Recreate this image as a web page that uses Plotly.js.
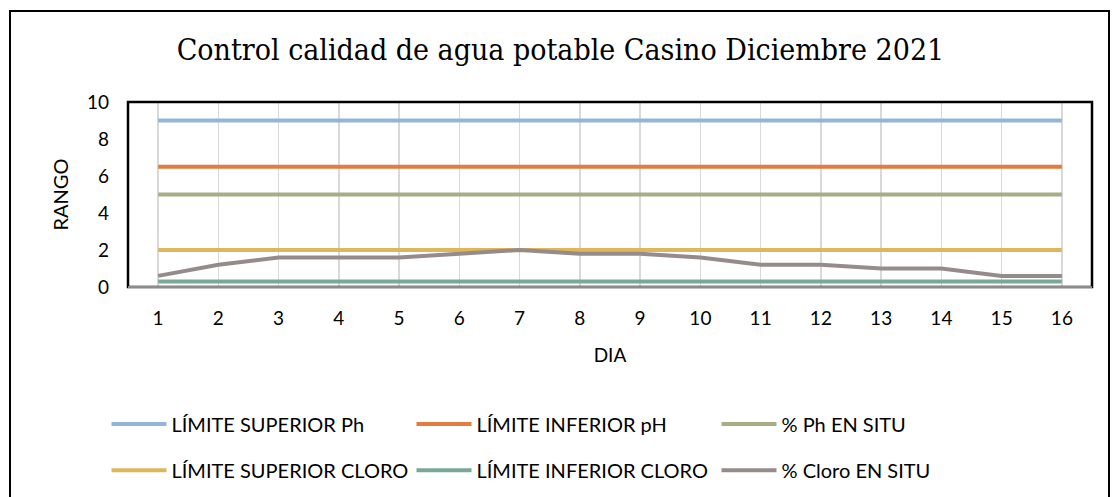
<!DOCTYPE html>
<html><head><meta charset="utf-8">
<script src="https://cdn.plot.ly/plotly-3.0.1.min.js"></script>
<style>
html,body{margin:0;padding:0;background:#fff;}
#wrap{position:relative;width:1112px;height:497px;overflow:hidden;}
#chart{position:absolute;left:0;top:0;width:1112px;height:497px;}
#frame{position:absolute;left:9px;top:10px;width:1101px;height:600px;border:2px solid #000;pointer-events:none;box-sizing:border-box;}
</style></head>
<body><div id="wrap"><div id="chart"></div><div id="frame"></div></div>
<script>
const dias = ['1','2','3','4','5','6','7','8','9','10','11','12','13','14','15','16'];
const limSupPh = [9,9,9,9,9,9,9,9,9,9,9,9,9,9,9,9];
const limInfPh = [6.5,6.5,6.5,6.5,6.5,6.5,6.5,6.5,6.5,6.5,6.5,6.5,6.5,6.5,6.5,6.5];
const phEnSitu = [5,5,5,5,5,5,5,5,5,5,5,5,5,5,5,5];
const limSupCloro = [2,2,2,2,2,2,2,2,2,2,2,2,2,2,2,2];
const limInfCloro = [0.3,0.3,0.3,0.3,0.3,0.3,0.3,0.3,0.3,0.3,0.3,0.3,0.3,0.3,0.3,0.3];
const cloroEnSitu = [0.6,1.2,1.6,1.6,1.6,1.8,2.0,1.8,1.8,1.6,1.2,1.2,1.0,1.0,0.6,0.6];
const yTicks = [0,2,4,6,8,10];

function tr(name, y, color, legend){
  return {type:'scatter', mode:'lines', x:dias, y:y, name:name, legend:legend,
    line:{color:color, width:4}, hoverinfo:'skip'};
}
const data = [
  tr('LÍMITE SUPERIOR Ph', limSupPh, '#92B5D8', 'legend'),
  tr('LÍMITE INFERIOR pH', limInfPh, '#E27C3F', 'legend'),
  tr('% Ph EN SITU', phEnSitu, '#A6AE85', 'legend'),
  tr('LÍMITE SUPERIOR CLORO', limSupCloro, '#DFB75A', 'legend2'),
  tr('LÍMITE INFERIOR CLORO', limInfCloro, '#78A898', 'legend2'),
  tr('% Cloro EN SITU', cloroEnSitu, '#968B8B', 'legend2')
];
const F = 'Lato, "Open Sans", sans-serif';
const legFont = {family:F, size:20, color:'#000'};
const layout = {
  width:1112, height:497,
  margin:{l:128, r:20, t:102, b:210, autoexpand:false},
  paper_bgcolor:'rgba(0,0,0,0)', plot_bgcolor:'#fff',
  title:{text:'Control calidad de agua potable Casino Diciembre 2021',
    font:{family:'"DejaVu Serif Condensed", "Liberation Serif", serif', size:30, color:'#000'},
    x:0.504, xanchor:'center', y:0.9, yanchor:'middle'},
  xaxis:{type:'category', range:[-0.5,15.5], showgrid:true, gridcolor:'#D9D9D9', gridwidth:1.5,
    tickfont:{family:F, size:19, color:'#000'}, ticks:'', showline:false, ticklabelstandoff:18,
    zeroline:false, automargin:false,
    title:{text:'DIA', font:{family:F, size:19, color:'#000'}, standoff:20}},
  yaxis:{range:[0,10], tickvals:yTicks, ticktext:yTicks.map(String), showgrid:false, zeroline:false,
    tickfont:{family:F, size:19, color:'#000'}, ticks:'', showline:false, ticklabelstandoff:18,
    automargin:false,
    title:{text:'RANGO', font:{family:F, size:20, color:'#000'}, standoff:12}},
  shapes:[
    {type:'rect', xref:'paper', yref:'paper', x0:0, x1:1, y0:0, y1:1, line:{color:'#000', width:2.5}},
    {type:'line', xref:'paper', yref:'paper', x0:0, x1:1, y0:0, y1:0, line:{color:'#8C8C8C', width:2}}
  ],
  showlegend:true,
  legend:{orientation:'h', x:-0.0223, xanchor:'left', y:-0.74, yanchor:'middle', font:legFont,
    entrywidth:235, entrywidthmode:'pixels', itemwidth:55, bgcolor:'rgba(0,0,0,0)', tracegroupgap:0},
  legend2:{orientation:'h', x:-0.0223, xanchor:'left', y:-0.99, yanchor:'middle', font:legFont,
    entrywidth:235, entrywidthmode:'pixels', itemwidth:55, bgcolor:'rgba(0,0,0,0)', tracegroupgap:0}
};
Plotly.newPlot('chart', data, layout, {displayModeBar:false, staticPlot:true});
</script></body></html>
